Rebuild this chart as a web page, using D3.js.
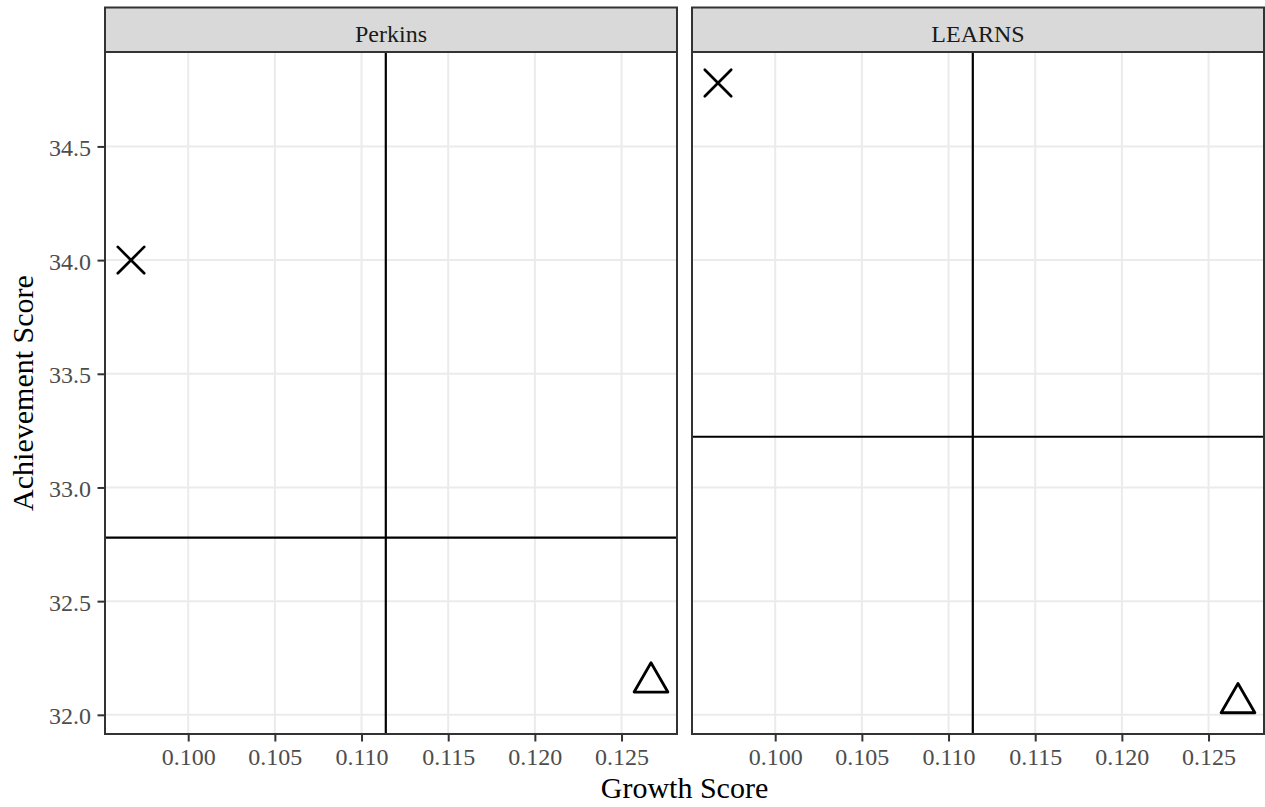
<!DOCTYPE html>
<html>
<head>
<meta charset="utf-8">
<script src="https://cdn.jsdelivr.net/npm/d3@7"></script>
<style>
  html, body { margin: 0; padding: 0; background: #fff; }
  svg { display: block; font-family: "Liberation Serif", "Times New Roman", serif; }
</style>
</head>
<body>
<svg id="chart" width="1265" height="807"></svg>
<script>
// ---- data ----
const panels = ["Perkins", "LEARNS"];
const crossX = [0.0967, 0.0967];
const crossY = [34.00, 34.779];
const triX = [0.1267, 0.1267];
const triY = [32.143, 32.052];
const hLine = [32.779, 33.223];
const vLine = [0.1114, 0.1114];
const xTicks = [0.100, 0.105, 0.110, 0.115, 0.120, 0.125];
const yTicks = [32.0, 32.5, 33.0, 33.5, 34.0, 34.5];

// ---- layout ----
const panelX = [[105, 677], [692, 1264]];
const pTop = 52, pBottom = 734, stripTop = 7.5;
const svg = d3.select("#chart");

// shared (fixed) scales with ggplot-like 5% expansion
const allX = crossX.concat(triX, vLine);
const allY = crossY.concat(triY, hLine);
const xMin = d3.min(allX), xMax = d3.max(allX);
const yMin = d3.min(allY), yMax = d3.max(allY);
const xPad = (xMax - xMin) * 0.05, yPad = (yMax - yMin) * 0.05;
const y = d3.scaleLinear().domain([yMin - yPad, yMax + yPad]).range([pBottom, pTop]);

const triPath = (r) => {
  const xc = r * Math.sqrt(3) / 2, yc = r / 2;
  return `M0,${-r}L${xc},${yc}L${-xc},${yc}Z`;
};

panels.forEach((name, i) => {
  const [x0, x1] = panelX[i];
  const x = d3.scaleLinear().domain([xMin - xPad, xMax + xPad]).range([x0, x1]);
  const g = svg.append("g");

  g.append("rect").attr("x", x0).attr("y", pTop).attr("width", x1 - x0).attr("height", pBottom - pTop)
    .attr("fill", "#fff");

  // grid
  g.selectAll(".gx").data(xTicks).enter().append("line")
    .attr("x1", d => x(d)).attr("x2", d => x(d)).attr("y1", pTop).attr("y2", pBottom)
    .attr("stroke", "#EBEBEB").attr("stroke-width", 2);
  g.selectAll(".gy").data(yTicks).enter().append("line")
    .attr("x1", x0).attr("x2", x1).attr("y1", d => y(d)).attr("y2", d => y(d))
    .attr("stroke", "#EBEBEB").attr("stroke-width", 2);

  // reference lines
  g.append("line").attr("x1", x0).attr("x2", x1).attr("y1", y(hLine[i])).attr("y2", y(hLine[i]))
    .attr("stroke", "#000").attr("stroke-width", 2.2);
  g.append("line").attr("x1", x(vLine[i])).attr("x2", x(vLine[i])).attr("y1", pTop).attr("y2", pBottom)
    .attr("stroke", "#000").attr("stroke-width", 2.2);

  // cross point (shape 4)
  const cx = x(crossX[i]), cy = y(crossY[i]), s = 13.2;
  g.append("path")
    .attr("d", `M${cx - s},${cy - s}L${cx + s},${cy + s}M${cx - s},${cy + s}L${cx + s},${cy - s}`)
    .attr("stroke", "#000").attr("stroke-width", 2.7).attr("stroke-linecap", "round").attr("fill", "none");

  // triangle point (shape 2)
  g.append("path")
    .attr("transform", `translate(${x(triX[i])},${y(triY[i])})`)
    .attr("d", triPath(19.5))
    .attr("stroke", "#000").attr("stroke-width", 2.8).attr("stroke-linejoin", "round").attr("fill", "none");

  // panel border
  g.append("rect").attr("x", x0).attr("y", pTop).attr("width", x1 - x0).attr("height", pBottom - pTop)
    .attr("fill", "none").attr("stroke", "#333333").attr("stroke-width", 2);

  // strip
  g.append("rect").attr("x", x0).attr("y", stripTop).attr("width", x1 - x0).attr("height", pTop - stripTop)
    .attr("fill", "#D9D9D9").attr("stroke", "#333333").attr("stroke-width", 2);
  g.append("text").attr("x", (x0 + x1) / 2).attr("y", 41.5).attr("text-anchor", "middle")
    .attr("font-size", 24).attr("fill", "#1A1A1A").text(name);

  // x axis
  const xAxis = d3.axisBottom(x).tickValues(xTicks).tickFormat(d3.format(".3f")).tickSize(7.5).tickPadding(4);
  const ax = g.append("g").attr("transform", `translate(0,${pBottom})`).call(xAxis);
  ax.select(".domain").remove();
  ax.selectAll(".tick line").attr("stroke", "#333333").attr("stroke-width", 2);
  ax.selectAll(".tick text").attr("font-size", 24).attr("fill", "#4D4D4D")
    .attr("font-family", "Liberation Serif, serif").attr("dy", null).attr("y", 31);

  // y axis only on first panel
  if (i === 0) {
    const yAxis = d3.axisLeft(y).tickValues(yTicks).tickFormat(d3.format(".1f")).tickSize(7.5).tickPadding(6);
    const ay = g.append("g").attr("transform", `translate(${x0},0)`).call(yAxis);
    ay.select(".domain").remove();
    ay.selectAll(".tick line").attr("stroke", "#333333").attr("stroke-width", 2);
    ay.selectAll(".tick text").attr("font-size", 24).attr("fill", "#4D4D4D")
      .attr("font-family", "Liberation Serif, serif").attr("dy", null).attr("y", 9).attr("x", -14);
  }
});

// axis titles
svg.append("text").attr("x", (panelX[0][0] + panelX[1][1]) / 2).attr("y", 798)
  .attr("text-anchor", "middle").attr("font-size", 30).attr("fill", "#000").text("Growth Score");
svg.append("text").attr("transform", `translate(33,${(pTop + pBottom) / 2}) rotate(-90)`)
  .attr("text-anchor", "middle").attr("font-size", 30).attr("fill", "#000").text("Achievement Score");
</script>
</body>
</html>
